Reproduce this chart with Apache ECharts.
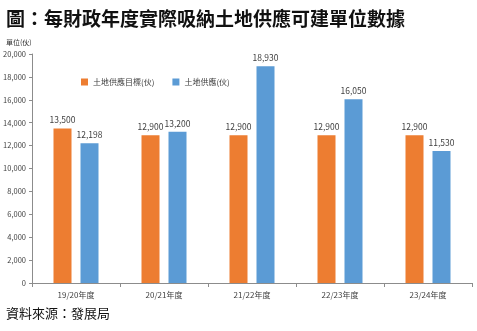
<!DOCTYPE html>
<html><head><meta charset="utf-8">
<script src="https://cdn.jsdelivr.net/npm/echarts@6/dist/echarts.min.js"></script>
<style>html,body{margin:0;padding:0;background:#fff;}#c{width:477px;height:331px;}</style>
</head><body><div id="c"></div>
<script>
const categories = ['19/20年度','20/21年度','21/22年度','22/23年度','23/24年度'];
const targetValues = [13500, 12900, 12900, 12900, 12900];
const supplyValues = [12198, 13200, 18930, 16050, 11530];
const seriesNames = ['土地供應目標(伙)', '土地供應(伙)'];
const titleText = '圖：每財政年度實際吸納土地供應可建單位數據';
const unitText = '單位(伙)';
const sourceText = '資料來源：發展局';

const fontFam = '"Noto Sans CJK TC","Noto Sans CJK SC",sans-serif';
const chart = echarts.init(document.getElementById('c'));
const labelCfg = {show:true, position:'top', distance:4, color:'#404040', fontSize:8.5, fontFamily:fontFam,
  formatter: p => p.value.toLocaleString('en-US')};
chart.setOption({
  animation:false,
  textStyle:{fontFamily:fontFam},
  graphic:[
    {type:'text', left:6, top:9, style:{text:titleText, fontSize:19, fontWeight:'bold', fill:'#111', fontFamily:fontFam}},
    {type:'text', left:6, top:39, style:{text:unitText, fontSize:7, fill:'#333', fontFamily:fontFam}},
    {type:'text', left:6, top:307, style:{text:sourceText, fontSize:13, fill:'#111', fontFamily:fontFam}}
  ],
  legend:{
    data:seriesNames, left:76, top:73, itemWidth:7, itemHeight:7, itemGap:18,
    icon:'rect', textStyle:{fontSize:8, color:'#404040', fontFamily:fontFam}
  },
  grid:{left:32, right:5, top:54, bottom:48},
  xAxis:{
    type:'category', data:categories,
    axisLine:{lineStyle:{color:'#8c8c8c'}},
    axisTick:{show:true, length:4, lineStyle:{color:'#8c8c8c'}},
    axisLabel:{fontSize:8, color:'#404040', margin:8, fontFamily:fontFam}
  },
  yAxis:{
    type:'value', min:0, max:20000, interval:2000,
    axisLine:{show:true, lineStyle:{color:'#8c8c8c'}},
    axisTick:{show:true, length:3, lineStyle:{color:'#8c8c8c'}},
    splitLine:{show:false},
    axisLabel:{fontSize:7.5, color:'#404040', margin:6, fontFamily:fontFam,
      formatter: v => v.toLocaleString('en-US')}
  },
  series:[
    {name:seriesNames[0], type:'bar', data:targetValues, barWidth:18, barGap:'50%',
      itemStyle:{color:'#ED7D31'}, label:labelCfg},
    {name:seriesNames[1], type:'bar', data:supplyValues, barWidth:18,
      itemStyle:{color:'#5B9BD5'}, label:labelCfg}
  ]
});
</script></body></html>
